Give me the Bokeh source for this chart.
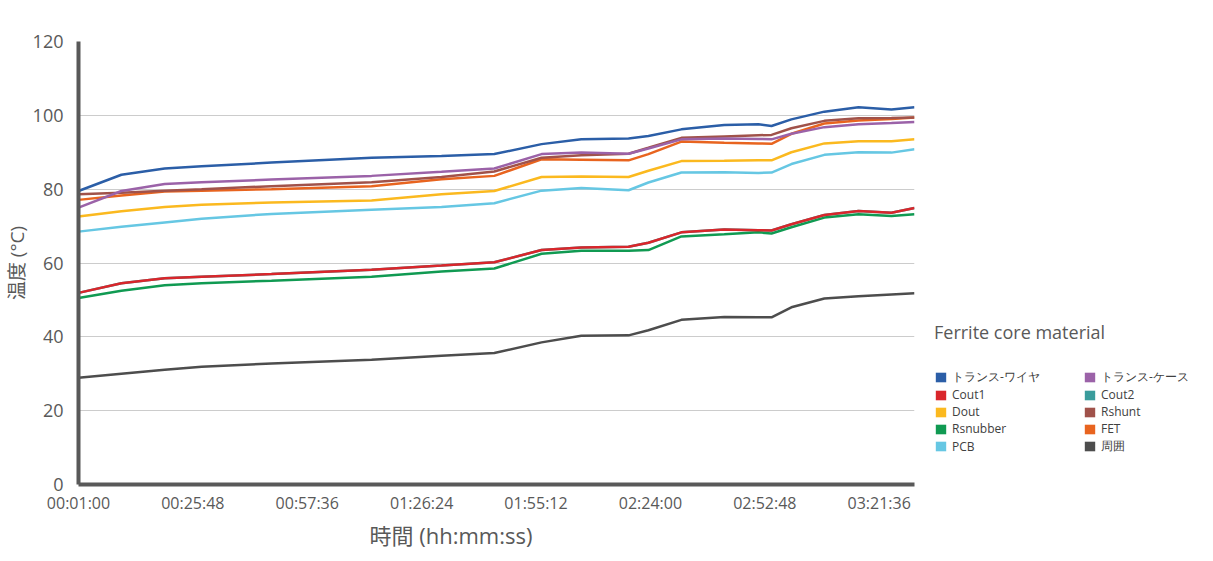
from bokeh.plotting import figure
from bokeh.models import Legend, LegendItem, Title, FixedTicker, Range1d
from bokeh.embed import file_html
from bokeh.resources import INLINE

# elapsed time (minutes, on the chart's evenly spaced time scale)
minutes = [1.0, 11.8, 22.7, 32.0, 49.6, 74.8, 92.4, 105.7, 117.6, 127.6, 139.5,
           144.5, 152.8, 163.6, 172.2, 175.5, 180.5, 188.8, 197.4, 205.7, 211.5]

tick_positions = [1.0, 29.8, 58.6, 87.4, 116.2, 145.0, 173.8, 202.6]
tick_labels = ["00:01:00", "00:25:48", "00:57:36", "01:26:24",
               "01:55:12", "02:24:00", "02:52:48", "03:21:36"]
y_ticks = [0, 20, 40, 60, 80, 100, 120]

trans_wire = [79.5, 83.9, 85.6, 86.2, 87.2, 88.5, 89.0, 89.5, 92.2, 93.5, 93.7,
              94.4, 96.2, 97.4, 97.6, 97.1, 98.9, 101.0, 102.2, 101.6, 102.2]
trans_case = [75.0, 79.5, 81.4, 81.9, 82.6, 83.6, 84.7, 85.6, 89.5, 89.9, 89.6,
              91.0, 93.5, 93.7, 93.6, 93.5, 95.0, 96.8, 97.6, 97.9, 98.2]
cout1 = [51.9, 54.5, 55.9, 56.3, 57.0, 58.2, 59.3, 60.2, 63.5, 64.2, 64.4,
         65.5, 68.3, 69.1, 68.9, 68.8, 70.5, 73.0, 74.1, 73.6, 74.9]
cout2 = [51.9, 54.5, 55.9, 56.3, 57.0, 58.2, 59.3, 60.2, 63.5, 64.2, 64.4,
         65.5, 68.3, 69.1, 68.9, 68.8, 70.5, 73.0, 74.1, 73.6, 74.9]
dout = [72.6, 74.0, 75.2, 75.8, 76.4, 76.9, 78.6, 79.5, 83.3, 83.4, 83.3,
        85.0, 87.6, 87.7, 87.8, 87.8, 90.0, 92.4, 93.0, 93.0, 93.5]
rshunt = [78.6, 79.0, 79.6, 80.0, 80.8, 81.9, 83.3, 84.8, 88.5, 89.2, 89.6,
          91.2, 93.9, 94.3, 94.6, 94.7, 96.5, 98.5, 99.2, 99.3, 99.4]
rsnubber = [50.5, 52.5, 54.0, 54.5, 55.2, 56.3, 57.7, 58.5, 62.5, 63.3, 63.3,
            63.5, 67.2, 67.8, 68.3, 68.0, 69.7, 72.3, 73.2, 72.7, 73.2]
fet = [77.1, 78.3, 79.4, 79.6, 80.0, 80.8, 82.7, 83.6, 88.1, 88.0, 87.8,
       89.5, 92.9, 92.6, 92.4, 92.3, 95.0, 97.8, 98.6, 99.0, 99.4]
pcb = [68.5, 69.8, 71.0, 72.0, 73.3, 74.4, 75.2, 76.2, 79.6, 80.3, 79.7,
       81.8, 84.5, 84.6, 84.4, 84.5, 86.8, 89.3, 90.0, 89.9, 90.8]
ambient = [28.9, 30.0, 31.1, 31.9, 32.8, 33.8, 34.9, 35.6, 38.5, 40.3, 40.4,
           41.8, 44.6, 45.4, 45.3, 45.3, 48.0, 50.4, 51.0, 51.5, 51.8]

# legend order (column by column)
series = [
    ("トランス-ワイヤ", trans_wire, "#2b5ea7"),
    ("Cout1", cout1, "#d9262b"),
    ("Dout", dout, "#fbb91f"),
    ("Rsnubber", rsnubber, "#109a52"),
    ("PCB", pcb, "#66c7e3"),
    ("トランス-ケース", trans_case, "#9b62a8"),
    ("Cout2", cout2, "#3a9c9c"),
    ("Rshunt", rshunt, "#a0524a"),
    ("FET", fet, "#e8641f"),
    ("周囲", ambient, "#4d4d4d"),
]

GREY = "#595959"
MIXED = "Open Sans, Noto Sans CJK JP"
p = figure(frame_width=836, frame_height=443, output_backend="svg",
           toolbar_location=None, min_border_left=69, min_border_top=41,
           min_border_bottom=5, min_border_right=5)
p.x_range = Range1d(1.0, 211.5)
p.y_range = Range1d(0, 120)
p.outline_line_color = None
p.background_fill_color = "white"

# draw order: Cout2 beneath Cout1
draw_order = ["Cout2", "周囲", "Rsnubber", "Cout1", "PCB", "Dout", "FET",
              "Rshunt", "トランス-ケース", "トランス-ワイヤ"]
lookup = {name: (vals, col) for name, vals, col in series}
for name in draw_order:
    vals, col = lookup[name]
    p.line(minutes, vals, line_color=col, line_width=2.5)

# zero-area quads on each series: give the legend square colour swatches
swatches = {}
for name, vals, col in series:
    swatches[name] = p.quad(left=minutes, right=minutes, bottom=vals, top=vals,
                            fill_color=col, line_color=None)

# axes
for ax in (p.xaxis[0], p.yaxis[0]):
    ax.axis_line_color = GREY
    ax.axis_line_width = 4
    ax.major_tick_line_color = None
    ax.minor_tick_line_color = None
    ax.major_label_text_color = GREY
    ax.major_label_text_font = "Open Sans"

p.yaxis[0].ticker = FixedTicker(ticks=y_ticks)
p.yaxis[0].major_label_text_font_size = "18px"
p.yaxis[0].major_label_standoff = 9
p.yaxis[0].axis_label = "温度 (°C)"
p.yaxis[0].axis_label_text_font = MIXED
p.yaxis[0].axis_label_text_font_size = "19px"
p.yaxis[0].axis_label_text_font_style = "normal"
p.yaxis[0].axis_label_text_color = GREY
p.yaxis[0].axis_label_standoff = 0

p.xaxis[0].ticker = FixedTicker(ticks=tick_positions)
p.xaxis[0].major_label_overrides = {t: l for t, l in zip(tick_positions, tick_labels)}
p.xaxis[0].major_label_text_font_size = "16px"
p.xaxis[0].major_label_standoff = 1

p.xgrid.grid_line_color = None
p.ygrid.ticker = FixedTicker(ticks=y_ticks[1:-1])
p.ygrid.grid_line_color = "#cccccc"
p.ygrid.grid_line_width = 1

p.add_layout(Title(text="時間 (hh:mm:ss)", align="left", offset=291,
                   text_font=MIXED, text_font_size="22px",
                   text_font_style="normal", text_color=GREY, standoff=2), "below")

items = [LegendItem(label=name, renderers=[swatches[name]]) for name, _, _ in series]
legend = Legend(items=items, ncols=2, location=(20, 29),
                title="Ferrite core material", title_text_font_size="18px",
                title_text_font="Open Sans", title_text_font_style="normal",
                title_text_color=GREY, title_standoff=24,
                label_text_font="Open Sans",
                label_text_font_size="12px", label_text_color="#404040",
                glyph_width=13, glyph_height=12, label_height=12, label_width=131,
                label_standoff=5, spacing=0, padding=0, margin=0,
                border_line_color=None, background_fill_alpha=0)
p.add_layout(legend, "right")

open("out.html", "w").write(file_html(p, INLINE))
